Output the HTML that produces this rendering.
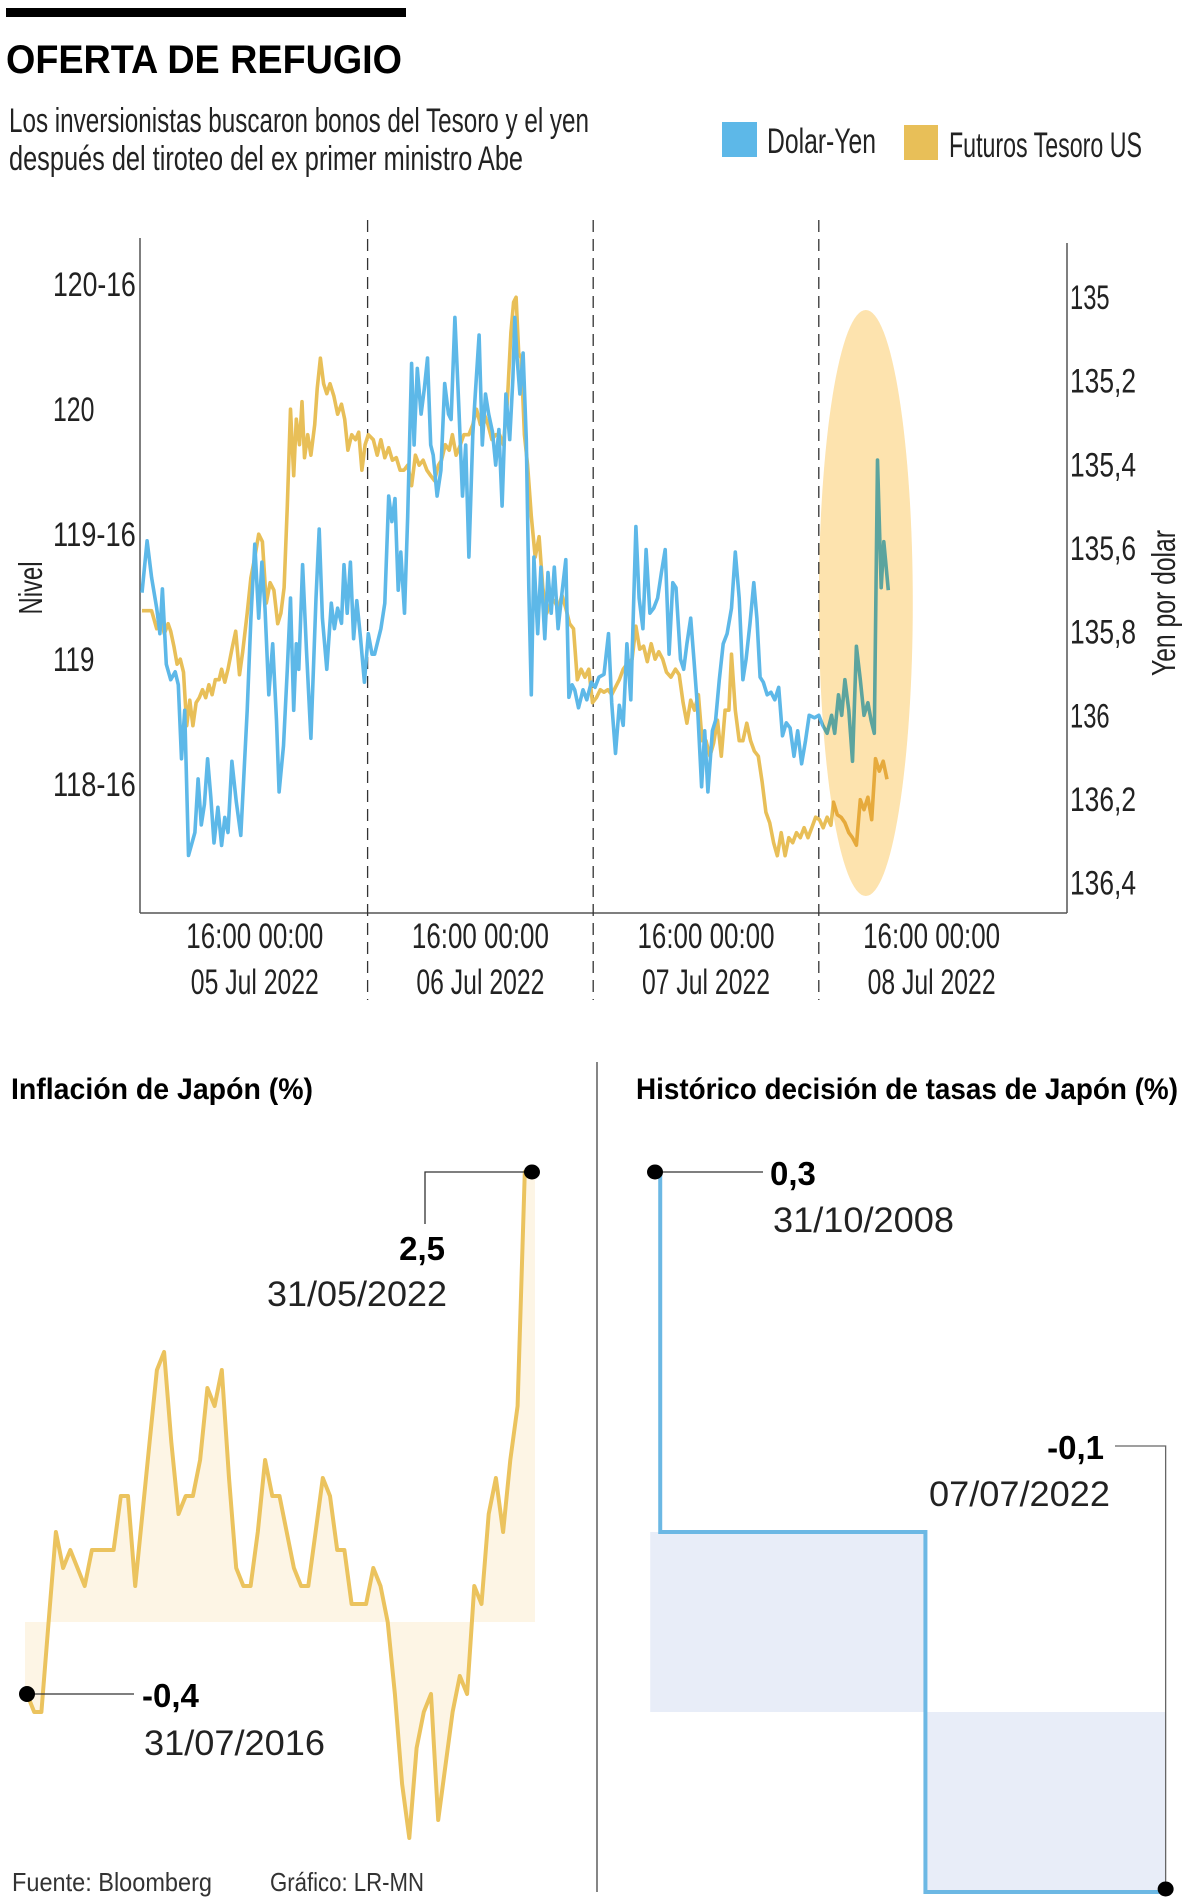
<!DOCTYPE html>
<html><head><meta charset="utf-8"><title>Oferta de refugio</title>
<style>
html,body{margin:0;padding:0;background:#fff;}
svg{display:block;}
.nar{font-family:"Liberation Sans Narrow","Liberation Sans",sans-serif;}
.reg{font-family:"Liberation Sans",sans-serif;}
</style></head>
<body>
<svg id="g" width="1200" height="1900" viewBox="0 0 1200 1900" xmlns="http://www.w3.org/2000/svg">
<rect x="0" y="0" width="1200" height="1900" fill="#fff"/>
<rect x="6" y="8" width="400" height="9" fill="#000"/>
<text x="6" y="73" class="reg" font-weight="bold" font-size="40" textLength="396" lengthAdjust="spacingAndGlyphs" fill="#000">OFERTA DE REFUGIO</text>
<text x="9" y="132" class="nar" font-size="34" textLength="580" lengthAdjust="spacingAndGlyphs" fill="#222">Los inversionistas buscaron bonos del Tesoro y el yen</text>
<text x="9" y="170" class="nar" font-size="34" textLength="514" lengthAdjust="spacingAndGlyphs" fill="#222">después del tiroteo del ex primer ministro Abe</text>
<g>
<rect x="722" y="122" width="35" height="35" fill="#5db8e8"/>
<text x="767" y="153" class="nar" font-size="35" textLength="109" lengthAdjust="spacingAndGlyphs" fill="#222">Dolar-Yen</text>
<rect x="904" y="125" width="34" height="35" fill="#e8bf58"/>
<text x="949" y="157" class="nar" font-size="35" textLength="193" lengthAdjust="spacingAndGlyphs" fill="#222">Futuros Tesoro US</text>
</g>
<g id="main"></g>
<g id="infl"></g>
<g id="rate"></g>
<line x1="597" y1="1062" x2="597" y2="1892" stroke="#444" stroke-width="1.3"/>
<text x="12" y="1891" class="reg" font-size="26" textLength="200" lengthAdjust="spacingAndGlyphs" fill="#333">Fuente: Bloomberg</text>
<text x="270" y="1891" class="reg" font-size="26" textLength="154" lengthAdjust="spacingAndGlyphs" fill="#333">Gráfico: LR-MN</text>
</svg>
<script>
// ---------- main chart data ----------
const blueHours=[0,0.54,1.02,1.56,1.9,2.17,2.58,3.05,3.53,3.86,4.2,4.54,4.95,5.63,5.97,6.31,6.64,6.98,7.32,7.66,8.07,8.47,8.81,9.15,9.56,10.03,10.51,11.19,11.59,12,12.41,12.75,13.08,13.49,13.9,14.31,14.58,15.05,15.46,15.8,16.14,16.41,16.68,17.08,17.49,17.97,18.51,18.85,19.19,19.66,20.14,20.47,20.81,21.22,21.49,21.83,22.17,22.51,22.85,23.25,23.66,24.07,24.47,24.75,25.42,25.83,26.24,26.58,26.92,27.25,27.53,27.93,28.27,28.68,28.95,29.29,29.69,30.03,30.37,30.71,30.98,31.39,31.8,32.2,32.61,32.88,33.29,33.69,34.1,34.44,34.78,35.19,35.46,35.86,36.2,36.54,36.88,37.29,37.63,37.97,38.31,38.71,39.12,39.46,39.66,39.86,40.2,40.54,40.88,41.15,41.42,41.69,42.1,42.44,42.85,43.19,43.53,43.86,44.27,44.68,45.08,45.42,45.76,46.03,46.44,46.92,47.32,47.8,48.2,48.61,49.15,49.63,49.97,50.37,50.78,51.19,51.59,52,52.54,52.88,53.29,53.63,54.03,54.44,54.85,55.25,55.66,56.07,56.47,56.81,57.29,57.63,57.97,58.37,58.71,59.12,59.53,59.86,60.2,60.68,61.02,61.42,61.83,62.24,62.71,63.12,63.53,63.93,64.27,64.68,65.08,65.42,65.76,66.1,66.51,66.92,67.32,67.73,68.14,68.54,68.95,69.36,69.76,70.17,70.58,70.98,71.53,72,72.41,72.88,73.36,73.69,74.1,74.44,74.78,75.19,75.59,76,76.41,76.81,77.22,77.56,77.9,78.24,78.64,78.92,79.39];
const blueYen=[135.707,135.583,135.671,135.744,135.805,135.698,135.878,135.915,135.896,135.927,136.104,135.988,136.335,136.28,136.152,136.262,136.213,136.104,136.195,136.305,136.22,136.311,136.244,136.28,136.11,136.207,136.287,135.988,135.768,135.591,135.768,135.634,135.744,135.951,135.829,136.012,136.183,136.073,135.89,135.72,135.988,135.829,135.89,135.64,135.841,136.055,135.72,135.555,135.768,135.89,135.732,135.793,135.744,135.78,135.64,135.756,135.634,135.817,135.726,135.817,135.921,135.805,135.854,135.854,135.793,135.732,135.476,135.537,135.482,135.701,135.61,135.756,135.524,135.159,135.354,135.171,135.28,135.22,135.146,135.354,135.378,135.476,135.415,135.207,135.28,135.293,135.049,135.256,135.476,135.354,135.622,135.329,135.232,135.091,135.354,135.232,135.28,135.323,135.402,135.317,135.5,135.232,135.341,135.195,135.049,135.134,135.232,135.134,135.341,135.695,135.951,135.622,135.805,135.646,135.817,135.659,135.756,135.646,135.793,135.707,135.628,135.957,135.927,135.939,135.982,135.939,135.963,135.921,135.933,135.909,135.902,135.805,135.97,136.091,135.976,136.024,135.829,135.963,135.549,135.72,135.793,135.604,135.756,135.744,135.72,135.659,135.604,135.854,135.683,135.695,135.866,135.89,135.829,135.768,135.866,135.988,136.171,136.037,136.183,136.037,136.012,135.915,135.829,135.805,135.744,135.61,135.72,135.915,135.866,135.78,135.683,135.768,135.909,135.921,135.951,135.945,135.963,135.933,136.049,136.018,136.03,136.098,136.037,136.116,136.061,136,136.006,136,136.024,136.043,136,136.043,135.951,136,135.915,135.988,136.11,135.835,135.915,136,135.97,136.012,136.043,135.39,135.695,135.585,135.701];
const goldHours=[0,1.02,1.56,2.03,2.37,2.78,3.05,3.39,3.73,4.07,4.41,4.75,5.08,5.42,5.76,6.1,6.44,6.78,7.12,7.46,7.8,8.2,8.47,8.81,9.15,9.56,9.97,10.37,10.71,11.19,11.59,12,12.41,12.81,13.22,13.63,14.03,14.44,14.78,15.12,15.46,15.8,16.14,16.41,16.75,17.02,17.29,17.63,17.97,18.37,18.64,18.98,19.32,19.66,20,20.41,20.81,21.22,21.56,21.9,22.31,22.71,23.05,23.39,23.73,24.07,24.61,25.02,25.42,25.83,26.24,26.64,27.05,27.46,27.86,28.27,28.68,29.08,29.49,29.9,30.31,30.71,31.12,31.53,31.86,32.27,32.68,33.02,33.42,33.76,34.24,34.78,35.19,35.59,36,36.41,36.81,37.22,37.63,38.03,38.44,38.85,39.25,39.53,39.8,40.07,40.34,40.68,41.02,41.42,41.83,42.24,42.64,43.05,43.46,43.86,44.27,44.68,45.08,45.49,45.9,46.31,46.71,47.12,47.53,47.93,48.34,48.75,49.15,49.56,49.97,50.37,50.78,51.19,51.59,52.14,52.54,52.95,53.36,53.76,54.17,54.58,54.98,55.39,55.8,56.27,56.75,57.15,57.56,57.97,58.37,58.78,59.19,59.59,60,60.41,60.81,61.22,61.63,62.03,62.44,62.71,63.12,63.53,63.93,64.34,64.75,65.15,65.56,65.97,66.37,66.78,67.19,67.59,68,68.41,68.81,69.22,69.63,70.03,70.44,70.85,71.25,71.66,72.07,72.47,72.88,73.29,73.56,73.97,74.37,74.78,75.19,75.59,76,76.41,76.81,77.22,77.63,78.03,78.44,78.85,79.25];
const goldPrice=[119.194,119.194,119.122,119.154,119.102,119.142,119.112,119.052,118.98,119,118.948,118.734,118.836,118.734,118.826,118.846,118.878,118.846,118.898,118.858,118.918,118.918,118.96,118.908,118.96,119.04,119.112,118.938,119.03,119.184,119.326,119.408,119.5,119.47,119.224,119.306,119.276,119.142,119.184,119.286,119.612,120,119.734,119.96,119.858,120.03,119.806,119.898,119.816,119.938,120.082,120.204,120.102,120.062,120.102,120.052,119.98,120.02,119.96,119.836,119.898,119.878,119.908,119.756,119.858,119.898,119.878,119.816,119.878,119.806,119.846,119.796,119.806,119.756,119.756,119.776,119.694,119.816,119.776,119.796,119.756,119.734,119.714,119.776,119.796,119.858,119.836,119.898,119.816,119.846,119.898,119.898,119.938,120,119.938,119.98,119.938,119.878,119.898,119.898,119.858,120.02,120.306,120.428,120.448,120.224,120.204,119.898,119.776,119.572,119.408,119.49,119.286,119.184,119.224,119.234,119.204,119.256,119.204,119.142,119.122,118.918,118.96,118.928,118.96,118.826,118.846,118.878,118.868,118.878,118.858,118.888,118.918,118.96,118.98,119,119.132,119.04,119.052,118.99,119.062,119,119.03,119,118.948,118.928,118.96,118.938,118.826,118.744,118.836,118.796,118.858,118.674,118.674,118.612,118.664,118.756,118.612,118.796,118.796,119.02,118.796,118.674,118.674,118.744,118.674,118.632,118.612,118.51,118.388,118.346,118.266,118.214,118.306,118.214,118.286,118.266,118.306,118.286,118.326,118.286,118.326,118.368,118.358,118.326,118.368,118.336,118.428,118.378,118.368,118.346,118.306,118.286,118.256,118.438,118.398,118.448,118.358,118.602,118.552,118.592,118.52];
const leftTicks=[120.5,120,119.5,119,118.5];
const leftTickLabels=["120-16","120","119-16","119","118-16"];
const rightTicks=[135,135.2,135.4,135.6,135.8,136,136.2,136.4];
const rightTickLabels=["135","135,2","135,4","135,6","135,8","136","136,2","136,4"];
const dayBoundaries=[24,48,72];
const dayCenters=[12,36,60,84];
const timeLabels=["16:00 00:00","16:00 00:00","16:00 00:00","16:00 00:00"];
const dateLabels=["05 Jul 2022","06 Jul 2022","07 Jul 2022","08 Jul 2022"];
const highlightHours=[72,82];
// ---------- inflation data ----------
const inflValues=[-0.4,-0.5,-0.5,0.0,0.5,0.3,0.4,0.3,0.2,0.4,0.4,0.4,0.4,0.7,0.7,0.2,0.6,1.0,1.4,1.5,1.0,0.6,0.7,0.7,0.9,1.3,1.2,1.4,0.8,0.3,0.2,0.2,0.5,0.9,0.7,0.7,0.5,0.3,0.2,0.2,0.5,0.8,0.7,0.4,0.4,0.1,0.1,0.1,0.3,0.2,0.0,-0.4,-0.9,-1.2,-0.7,-0.5,-0.4,-1.1,-0.8,-0.5,-0.3,-0.4,0.2,0.1,0.6,0.8,0.5,0.9,1.2,2.5,2.5];
const inflFirstLabel=["-0,4","31/07/2016"];
const inflLastLabel=["2,5","31/05/2022"];
// ---------- rate data ----------
const rateDates=[2008.83,2008.97,2016.08,2022.52];
const rateValues=[0.3,0.1,-0.1,-0.1];
const rateFirstLabel=["0,3","31/10/2008"];
const rateLastLabel=["-0,1","07/07/2022"];

const NS="http://www.w3.org/2000/svg";
function mk(tag,attrs,parent,txt){const e=document.createElementNS(NS,tag);for(const k in attrs)e.setAttribute(k,attrs[k]);if(txt!==undefined)e.textContent=txt;parent.appendChild(e);return e;}

// ---------- main chart ----------
const main=document.getElementById('main');
const xH=h=>142+9.4*h;
const yYen=v=>296.9+418.4*(v-135);
const yGold=v=>284.2+250*(120.5-v);
const X0=140,X1=1067,YB=913;

let e;
e=mk('line',{x1:X0,y1:238,x2:X0,y2:YB,stroke:'#555','stroke-width':1.5},main);


e=mk('line',{x1:X1,y1:243,x2:X1,y2:YB,stroke:'#555','stroke-width':1.5},main);


e=mk('line',{x1:X0,y1:YB,x2:X1,y2:YB,stroke:'#555','stroke-width':1.5},main);



dayBoundaries.forEach((h,i)=>{
  const l=mk('line',{x1:xH(h),y1:220,x2:xH(h),y2:1000,stroke:'#333','stroke-width':1.3,'stroke-dasharray':'12 7'},main);
  
  
});
leftTicks.forEach((v,i)=>{
  const s=leftTickLabels[i];
  const t=mk('text',{x:53,y:yGold(v)+12,class:'nar','font-size':34,fill:'#222',textLength:s.length*13.8,lengthAdjust:'spacingAndGlyphs'},main,s);
  
  
});
rightTicks.forEach((v,i)=>{
  const s=rightTickLabels[i];
  const t=mk('text',{x:1070,y:yYen(v)+12,class:'nar','font-size':34,fill:'#222',textLength:s.length*13.2,lengthAdjust:'spacingAndGlyphs'},main,s);
  
  
});
dayCenters.forEach((h,i)=>{
  const t=mk('text',{x:xH(h),y:948,class:'nar','font-size':35,fill:'#222','text-anchor':'middle',textLength:137,lengthAdjust:'spacingAndGlyphs'},main,timeLabels[i]);
  
  
  const d=mk('text',{x:xH(h),y:994,class:'nar','font-size':35,fill:'#222','text-anchor':'middle',textLength:128,lengthAdjust:'spacingAndGlyphs'},main,dateLabels[i]);
  
  
});
e=mk('text',{x:0,y:0,class:'nar','font-size':33,fill:'#222','text-anchor':'middle',textLength:53,lengthAdjust:'spacingAndGlyphs',transform:'translate(42,588) rotate(-90)'},main,'Nivel');


e=mk('text',{x:0,y:0,class:'nar','font-size':33,fill:'#222','text-anchor':'middle',textLength:146,lengthAdjust:'spacingAndGlyphs',transform:'translate(1175,603) rotate(-90)'},main,'Yen por dolar');



let gp=goldHours.map((h,i)=>xH(h).toFixed(1)+','+yGold(goldPrice[i]).toFixed(1)).join(' ');
e=mk('polyline',{points:gp,fill:'none',stroke:'#e8bf58','stroke-width':3.6,'stroke-linejoin':'round'},main);


let bp=blueHours.map((h,i)=>xH(h).toFixed(1)+','+yYen(blueYen[i]).toFixed(1)).join(' ');
e=mk('polyline',{points:bp,fill:'none',stroke:'#5db8e8','stroke-width':3.6,'stroke-linejoin':'round'},main);


const hx0=xH(highlightHours[0]),hx1=xH(highlightHours[1]);
e=mk('ellipse',{cx:(hx0+hx1)/2,cy:603,rx:(hx1-hx0)/2,ry:293,fill:'#fde3ae',style:'mix-blend-mode:multiply'},main);



// ---------- inflation chart ----------
const infl=document.getElementById('infl');
const xM=i=>27+7.214*i;
const yI=v=>1622-180*v;
e=mk('text',{x:11,y:1099,class:'reg','font-weight':'bold','font-size':30,fill:'#000',textLength:302,lengthAdjust:'spacingAndGlyphs'},infl,'Inflación de Japón (%)');


const n=inflValues.length;
let fp='M'+(xM(0)-2)+','+yI(0)+' L'+(xM(0)-2)+','+yI(inflValues[0]);
inflValues.forEach((v,i)=>{fp+=' L'+xM(i).toFixed(1)+','+yI(v).toFixed(1);});
fp+=' L'+(xM(n-1)+3)+','+yI(inflValues[n-1])+' L'+(xM(n-1)+3)+','+yI(0)+' Z';
e=mk('path',{d:fp,fill:'#fdf5e5'},infl);


e=mk('polyline',{points:inflValues.map((v,i)=>xM(i).toFixed(1)+','+yI(v).toFixed(1)).join(' '),fill:'none',stroke:'#ebc35e','stroke-width':4,'stroke-linejoin':'round'},infl);


const lx=xM(n-1),ly=yI(inflValues[n-1]);
e=mk('polyline',{points:`${lx},${ly} 425,${ly} 425,${ly+52}`,fill:'none',stroke:'#333','stroke-width':1.3},infl);


e=mk('ellipse',{cx:lx,cy:ly,rx:8,ry:7.5,fill:'#000'},infl);


e=mk('text',{x:445,y:ly+88,class:'reg','font-weight':'bold','font-size':33,fill:'#000','text-anchor':'end'},infl,inflLastLabel[0]);


e=mk('text',{x:447,y:ly+134,class:'reg','font-size':35,fill:'#222','text-anchor':'end',textLength:180,lengthAdjust:'spacingAndGlyphs'},infl,inflLastLabel[1]);


const fx=xM(0),fy=yI(inflValues[0]);
e=mk('line',{x1:fx,y1:fy,x2:134,y2:fy,stroke:'#333','stroke-width':1.3},infl);


e=mk('ellipse',{cx:fx,cy:fy,rx:8,ry:8,fill:'#000'},infl);


e=mk('text',{x:142,y:fy+13,class:'reg','font-weight':'bold','font-size':33,fill:'#000'},infl,inflFirstLabel[0]);


e=mk('text',{x:144,y:fy+61,class:'reg','font-size':35,fill:'#222',textLength:181,lengthAdjust:'spacingAndGlyphs'},infl,inflFirstLabel[1]);



// ---------- rate chart ----------
const rate=document.getElementById('rate');
const xD=d=>655+37.3*(d-2008.83);
const yR=v=>1712-1800*v;
e=mk('text',{x:636,y:1099,class:'reg','font-weight':'bold','font-size':30,fill:'#000',textLength:542,lengthAdjust:'spacingAndGlyphs'},rate,'Histórico decisión de tasas de Japón (%)');


for(let i=1;i<rateDates.length-1;i++){
  const v=rateValues[i];
  const xs=xD(rateDates[i])-(i===1?10:0);
  const xe=xD(rateDates[i+1]);
  const r=mk('rect',{x:xs,y:Math.min(yR(0),yR(v)),width:xe-xs,height:Math.abs(yR(v)-yR(0)),fill:'#e8edf8'},rate);
  
  
}
let sp=`${xD(rateDates[0])},${yR(rateValues[0])}`;
for(let i=1;i<rateDates.length;i++){
  sp+=` ${xD(rateDates[i])},${yR(rateValues[i-1])} ${xD(rateDates[i])},${yR(rateValues[i])}`;
}
e=mk('polyline',{points:sp,fill:'none',stroke:'#6cb8e4','stroke-width':4},rate);


const r0x=xD(rateDates[0]),r0y=yR(rateValues[0]);
e=mk('line',{x1:r0x,y1:r0y,x2:763,y2:r0y,stroke:'#333','stroke-width':1.3},rate);


e=mk('ellipse',{cx:r0x,cy:r0y,rx:8,ry:7.5,fill:'#000'},rate);


e=mk('text',{x:770,y:r0y+13,class:'reg','font-weight':'bold','font-size':33,fill:'#000'},rate,rateFirstLabel[0]);


e=mk('text',{x:773,y:r0y+60,class:'reg','font-size':35,fill:'#222',textLength:181,lengthAdjust:'spacingAndGlyphs'},rate,rateFirstLabel[1]);


const rl=rateDates.length-1;
const rLx=xD(rateDates[rl]),rLy=yR(rateValues[rl]);
e=mk('polyline',{points:`1115,1446 ${rLx},1446 ${rLx},${rLy}`,fill:'none',stroke:'#666','stroke-width':1.3},rate);


e=mk('ellipse',{cx:rLx,cy:rLy-3,rx:8,ry:7.5,fill:'#000'},rate);


e=mk('text',{x:1104,y:1459,class:'reg','font-weight':'bold','font-size':33,fill:'#000','text-anchor':'end'},rate,rateLastLabel[0]);


e=mk('text',{x:1110,y:1506,class:'reg','font-size':35,fill:'#222','text-anchor':'end',textLength:181,lengthAdjust:'spacingAndGlyphs'},rate,rateLastLabel[1]);


</script>
</body></html>
